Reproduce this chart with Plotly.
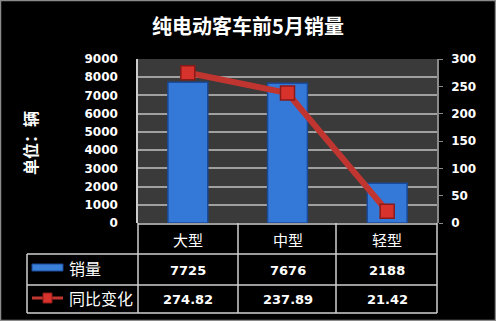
import plotly.graph_objects as go

title = "纯电动客车前5月销量"
categories = ["大型", "中型", "轻型"]
sales = [7725, 7676, 2188]
yoy = [274.82, 237.89, 21.42]
sales_label = "销量"
yoy_label = "同比变化"
y_title = "单位：辆"
left_ticks = list(range(0, 9001, 1000))
right_ticks = list(range(0, 301, 50))

W, H = 496, 321
L, R, T, B = 138, 59, 59, 98
pw, ph = W - L - R, H - T - B

def px_x(px):
    return (px - L) / pw

def px_y(py):
    return (H - B - py) / ph

fig = go.Figure()
fig.add_trace(go.Bar(
    x=categories, y=sales, name=sales_label,
    marker=dict(color="#3579d8", line=dict(color="#1a4a9a", width=1.5)),
    width=0.4, yaxis="y", showlegend=False,
))
fig.add_trace(go.Scatter(
    x=categories, y=yoy, name=yoy_label, mode="lines+markers",
    line=dict(color="#c0352f", width=6),
    marker=dict(symbol="square", size=14, color="#d8322c", line=dict(color="#8a1a18", width=1.5)),
    yaxis="y2", showlegend=False,
))

white = "#ffffff"
grid_c = "#a0a0a0"
table_c = "#d0d0d0"

shapes = []
for py in [254, 285, 313]:
    shapes.append(dict(type="line", xref="paper", yref="paper", x0=px_x(27), x1=px_x(437),
                       y0=px_y(py), y1=px_y(py), line=dict(color=table_c, width=1.5)))
shapes.append(dict(type="line", xref="paper", yref="paper", x0=0, x1=px_x(437),
                   y0=px_y(224), y1=px_y(224), line=dict(color=table_c, width=1.5)))
for px in [138, 238, 336, 437]:
    shapes.append(dict(type="line", xref="paper", yref="paper", x0=px_x(px), x1=px_x(px),
                       y0=px_y(223), y1=px_y(313), line=dict(color=table_c, width=1.5)))
shapes.append(dict(type="line", xref="paper", yref="paper", x0=px_x(27), x1=px_x(27),
                   y0=px_y(254), y1=px_y(313), line=dict(color=table_c, width=1.5)))
shapes.append(dict(type="rect", xref="paper", yref="paper", x0=px_x(32), x1=px_x(63),
                   y0=px_y(271), y1=px_y(264), fillcolor="#3a7fd8", line=dict(color="#1a4a9a", width=1)))
shapes.append(dict(type="line", xref="paper", yref="paper", x0=px_x(32), x1=px_x(63),
                   y0=px_y(298), y1=px_y(298), line=dict(color="#c0352f", width=3)))
shapes.append(dict(type="rect", xref="paper", yref="paper", x0=px_x(43), x1=px_x(52),
                   y0=px_y(303), y1=px_y(293), fillcolor="#d8322c", line=dict(color="#8a1a18", width=1)))
shapes.append(dict(type="rect", xref="paper", yref="paper", x0=px_x(0.5), x1=px_x(W - 0.5),
                   y0=px_y(H - 0.5), y1=px_y(0.5), line=dict(color="#8a8a8a", width=1.5)))

annotations = []
cell_font = dict(family="DejaVu Sans", size=13, color=white, weight="bold")
cjk = "Noto Sans CJK SC"
for i, c in enumerate(categories):
    annotations.append(dict(x=c, xref="x", y=px_y(239), yref="paper", yanchor="middle", text=c,
                            showarrow=False, font=dict(family=cjk, size=15, color=white)))
    annotations.append(dict(x=c, xref="x", y=px_y(270), yref="paper", yanchor="middle",
                            text=str(sales[i]), showarrow=False, font=cell_font))
    annotations.append(dict(x=c, xref="x", y=px_y(299), yref="paper", yanchor="middle",
                            text=f"{yoy[i]:.2f}", showarrow=False, font=cell_font))
annotations.append(dict(x=px_x(67), xref="paper", y=px_y(268), yref="paper", yanchor="middle",
                        text=sales_label, showarrow=False, xanchor="left",
                        font=dict(family=cjk, size=16, color=white)))
annotations.append(dict(x=px_x(67), xref="paper", y=px_y(298), yref="paper", yanchor="middle",
                        text=yoy_label, showarrow=False, xanchor="left",
                        font=dict(family=cjk, size=16, color=white)))
annotations.append(dict(x=px_x(30), xref="paper", y=px_y(143), yref="paper", yanchor="middle",
                        xanchor="center", text=y_title, showarrow=False, textangle=-90,
                        font=dict(family=cjk, size=16, color=white, weight="bold")))

tick_font = dict(family="DejaVu Sans", size=12, color=white, weight="bold")
fig.update_layout(
    width=W, height=H,
    margin=dict(l=L, r=R, t=T, b=B),
    paper_bgcolor="#000000", plot_bgcolor="#3a3a3a",
    title=dict(text=title, x=0.5, xref="container", xanchor="center", y=1 - 27 / H,
               yref="container", yanchor="middle",
               font=dict(family=cjk, size=20, color=white, weight="bold")),
    xaxis=dict(showticklabels=False, showgrid=False, zeroline=False, showline=False,
               range=[-0.5, 2.5]),
    yaxis=dict(range=[0, 9000], tickvals=left_ticks, tickfont=tick_font, gridcolor=grid_c,
               gridwidth=1.5, zeroline=False, showline=True, linecolor="#cccccc", linewidth=1.5,
               ticks="", ticklabelstandoff=16),
    yaxis2=dict(range=[0, 300], tickvals=right_ticks, overlaying="y", side="right",
                tickfont=tick_font, showgrid=False, zeroline=False, showline=True,
                linecolor="#8a8a8a", linewidth=1.5, ticks="outside", ticklen=4,
                tickcolor="#8a8a8a", ticklabelstandoff=6),
    shapes=shapes, annotations=annotations, bargap=0.6,
)
fig.write_html("out.html")
